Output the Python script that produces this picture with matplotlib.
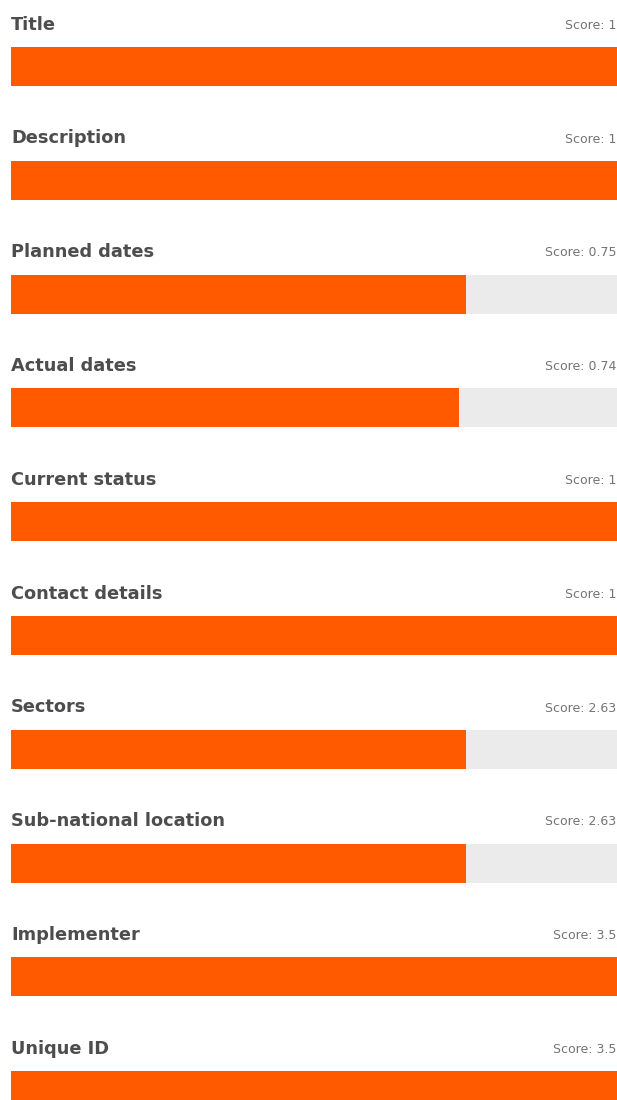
import matplotlib
matplotlib.use("Agg")
import matplotlib.pyplot as plt

categories = ["Title", "Description", "Planned dates", "Actual dates", "Current status",
              "Contact details", "Sectors", "Sub-national location", "Implementer", "Unique ID"]
scores = [1, 1, 0.75, 0.74, 1, 1, 2.63, 2.63, 3.5, 3.5]
max_scores = [1, 1, 1, 1, 1, 1, 3.5, 3.5, 3.5, 3.5]
score_labels = ["1", "1", "0.75", "0.74", "1", "1", "2.63", "2.63", "3.5", "3.5"]

ORANGE = "#FF5A00"
GREY = "#EBEBEB"
TEXT = "#4D4D4D"

fig = plt.figure(figsize=(6.17, 11), dpi=100)
ax = fig.add_axes([11 / 617, 0, 1 - 11 / 617, 1])

pos = list(range(len(categories)))
fractions = [s / m for s, m in zip(scores, max_scores)]
bar_h = 0.343
ax.barh(pos, [1] * len(pos), height=bar_h, color=GREY, left=0)
ax.barh(pos, fractions, height=bar_h, color=ORANGE, left=0)

for i, (cat, lab) in enumerate(zip(categories, score_labels)):
    ax.text(0, i - 0.368, cat, ha="left", va="center", fontsize=12.8,
            fontweight="bold", color=TEXT, family="DejaVu Sans")
    ax.text(0.9985, i - 0.362, f"Score: {lab}", ha="right", va="center", fontsize=9,
            fontweight="normal", color="#747474", family="DejaVu Sans")

ax.set_xlim(0, 1)
ax.set_ylim(9.082, -0.584)
ax.axis("off")
fig.savefig("out.png", dpi=100)
